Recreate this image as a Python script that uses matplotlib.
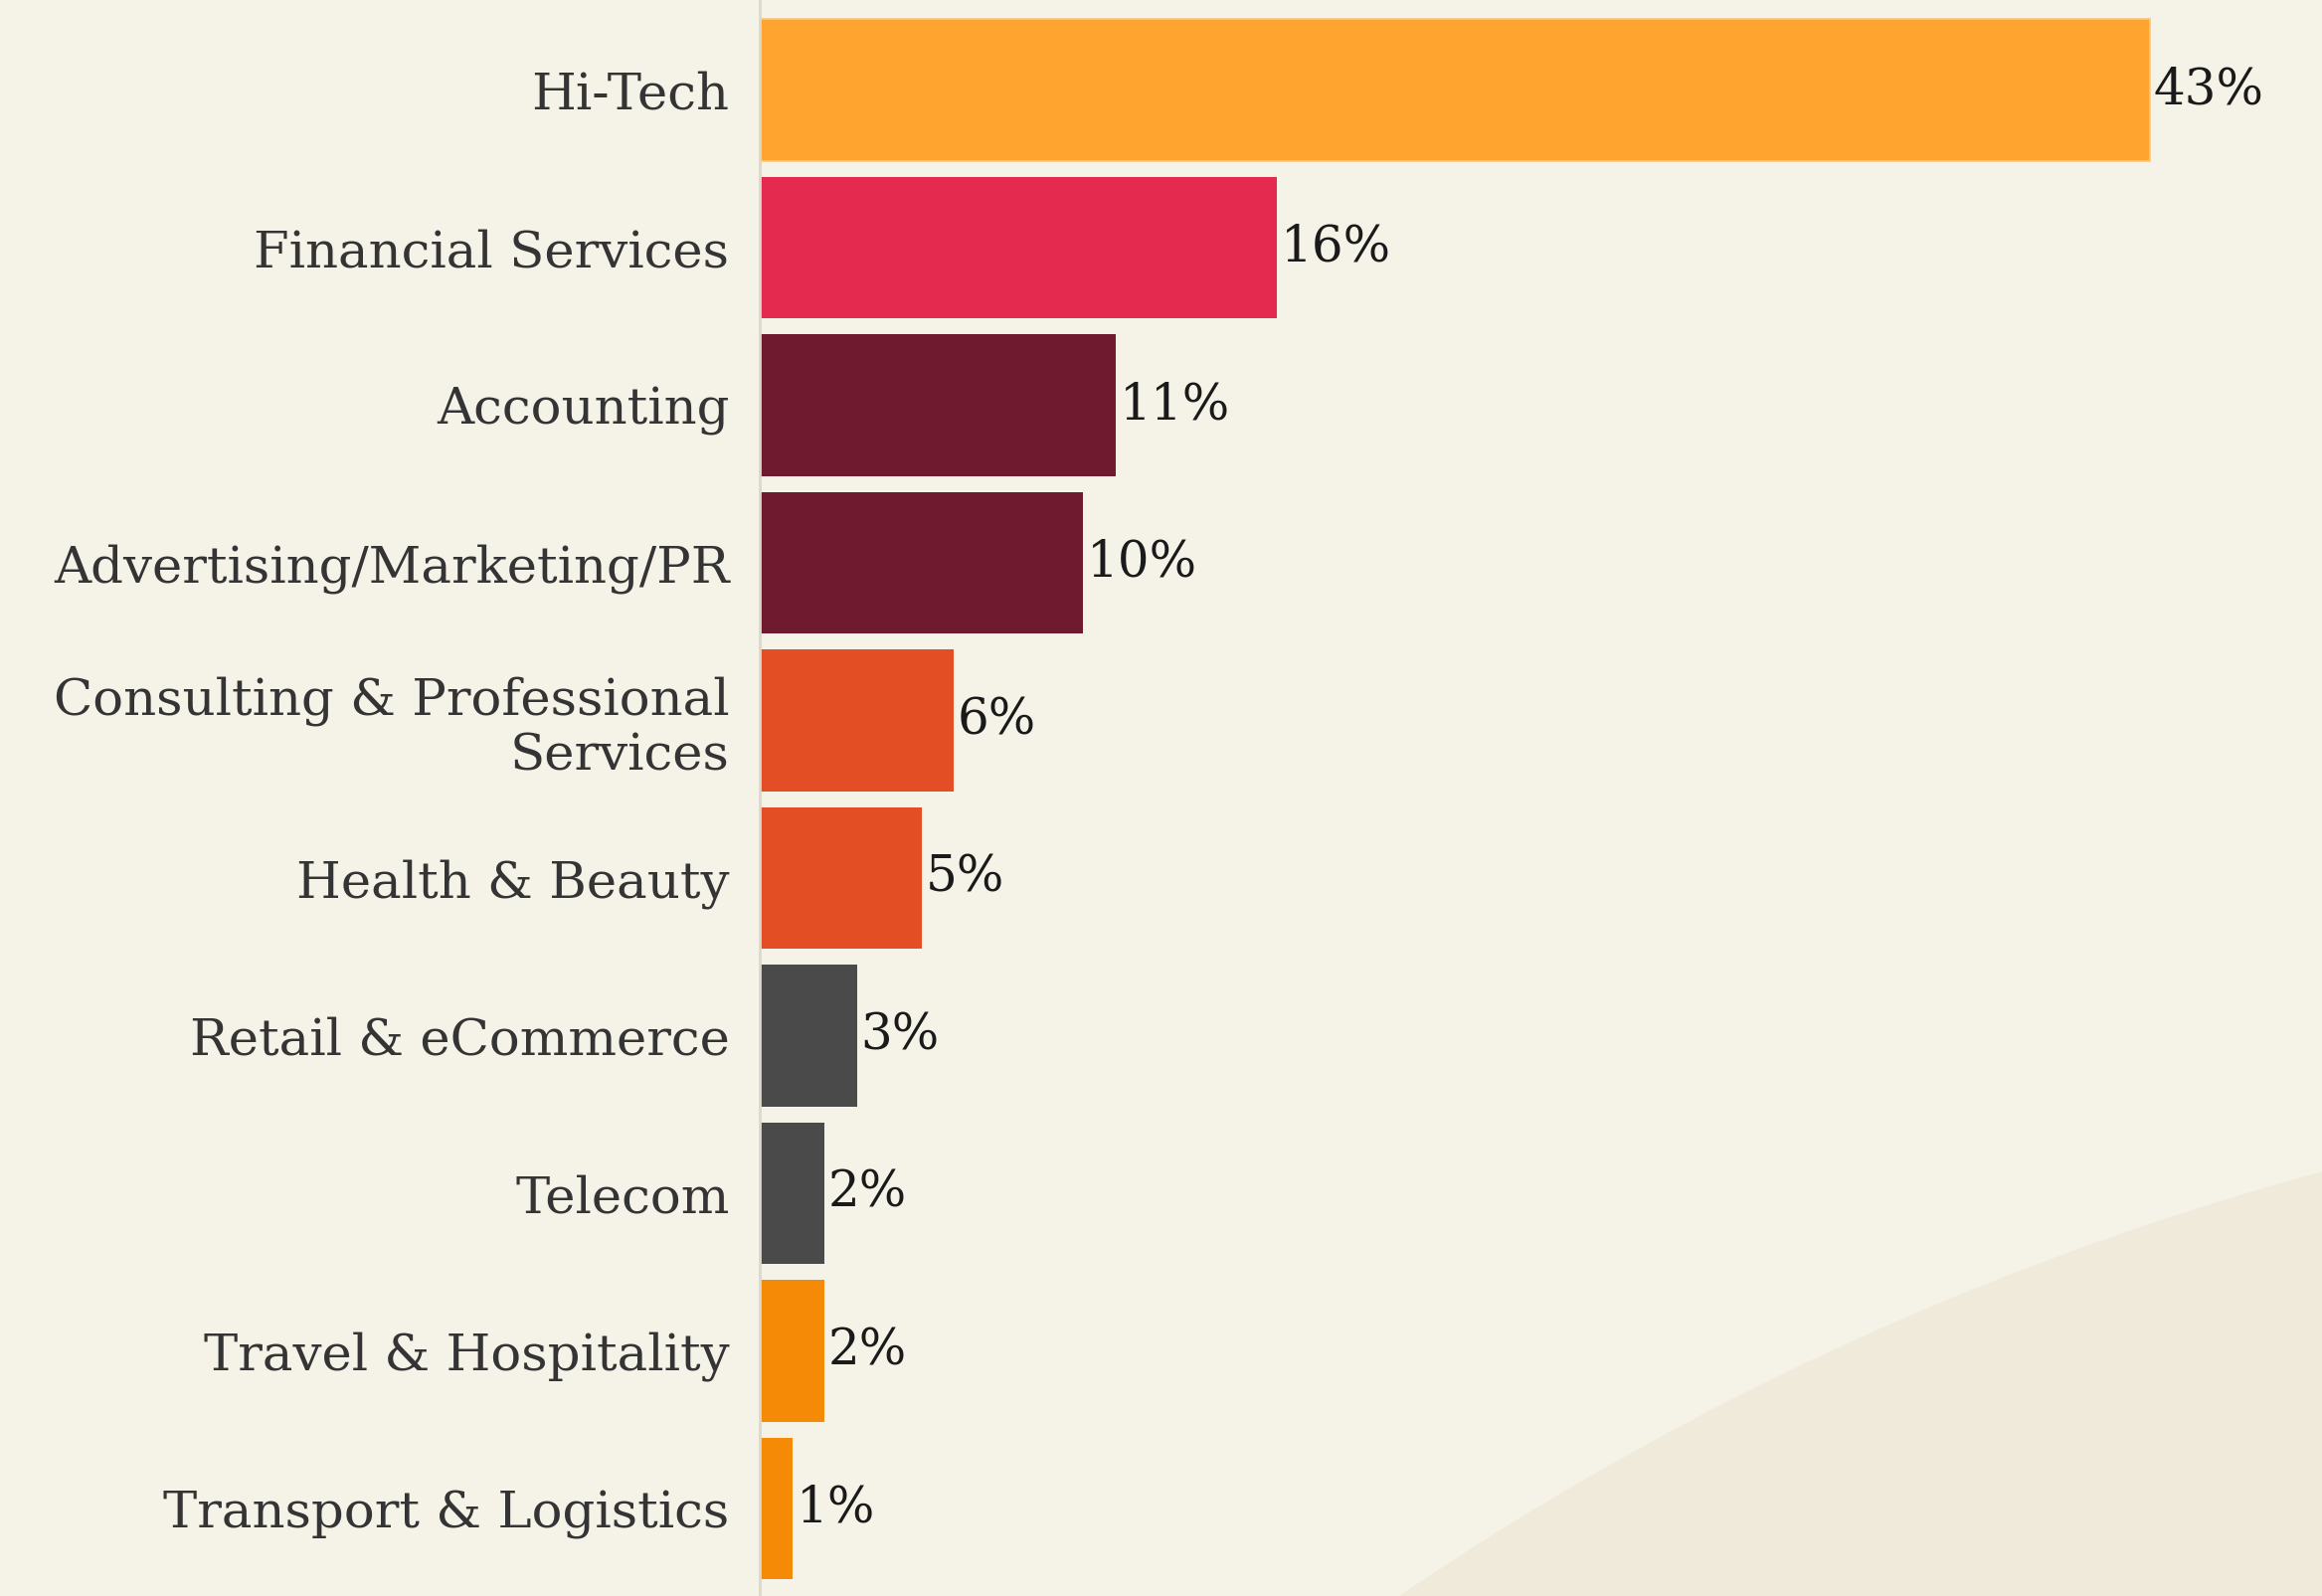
import matplotlib.pyplot as plt
from matplotlib.patches import Circle

INDUSTRIES = [
    "Hi-Tech",
    "Financial Services",
    "Accounting",
    "Advertising/Marketing/PR",
    "Consulting & Professional\nServices",
    "Health & Beauty",
    "Retail & eCommerce",
    "Telecom",
    "Travel & Hospitality",
    "Transport & Logistics",
]
SHARES = [43, 16, 11, 10, 6, 5, 3, 2, 2, 1]
COLORS = [
    "#FFA42F", "#E52A50", "#701A30", "#701A30", "#E34E25",
    "#E34E25", "#4A4A4A", "#4A4A4A", "#F58A07", "#F58A07",
]
BG = "#F5F2E7"
FONT = "DejaVu Serif"


def main():
    W, H = 2335, 1605
    fig = plt.figure(figsize=(W / 100, H / 100), dpi=100, facecolor=BG)

    # decorative arc in the lower right corner (pixel coords)
    bg_ax = fig.add_axes([0, 0, 1, 1], zorder=0)
    bg_ax.set_xlim(0, W)
    bg_ax.set_ylim(H, 0)
    bg_ax.axis("off")
    bg_ax.add_patch(Circle((3142, 4156), 3085, color="#F0EADB", lw=0))

    ax = fig.add_axes([764 / W, 0, (W - 764) / W, 1], zorder=1)
    ax.patch.set_alpha(0)
    y = range(len(INDUSTRIES))
    bars = ax.barh(y, SHARES, height=0.9, color=COLORS)
    bars[0].set_edgecolor("#F2C98A")
    bars[0].set_linewidth(1.2)

    for yi, v in zip(y, SHARES):
        ax.text(v + 0.12, yi, f"{v}%", va="center", ha="left",
                fontsize=36, family=FONT, color="#1A1A1A")

    ax.set_xlim(0, (W - 764) / 32.5)
    ax.set_ylim(9.555, -0.571)
    ax.set_yticks(list(y))
    ax.set_yticklabels(INDUSTRIES, fontsize=37, family=FONT,
                       color="#343434", linespacing=1.15)
    ax.tick_params(axis="y", length=0, pad=22)
    ax.set_xticks([])
    for side in ["top", "right", "bottom"]:
        ax.spines[side].set_visible(False)
    ax.spines["left"].set_color("#DCD8CC")
    ax.spines["left"].set_linewidth(2)

    fig.savefig("out.png", dpi=100, facecolor=BG)


if __name__ == "__main__":
    main()
